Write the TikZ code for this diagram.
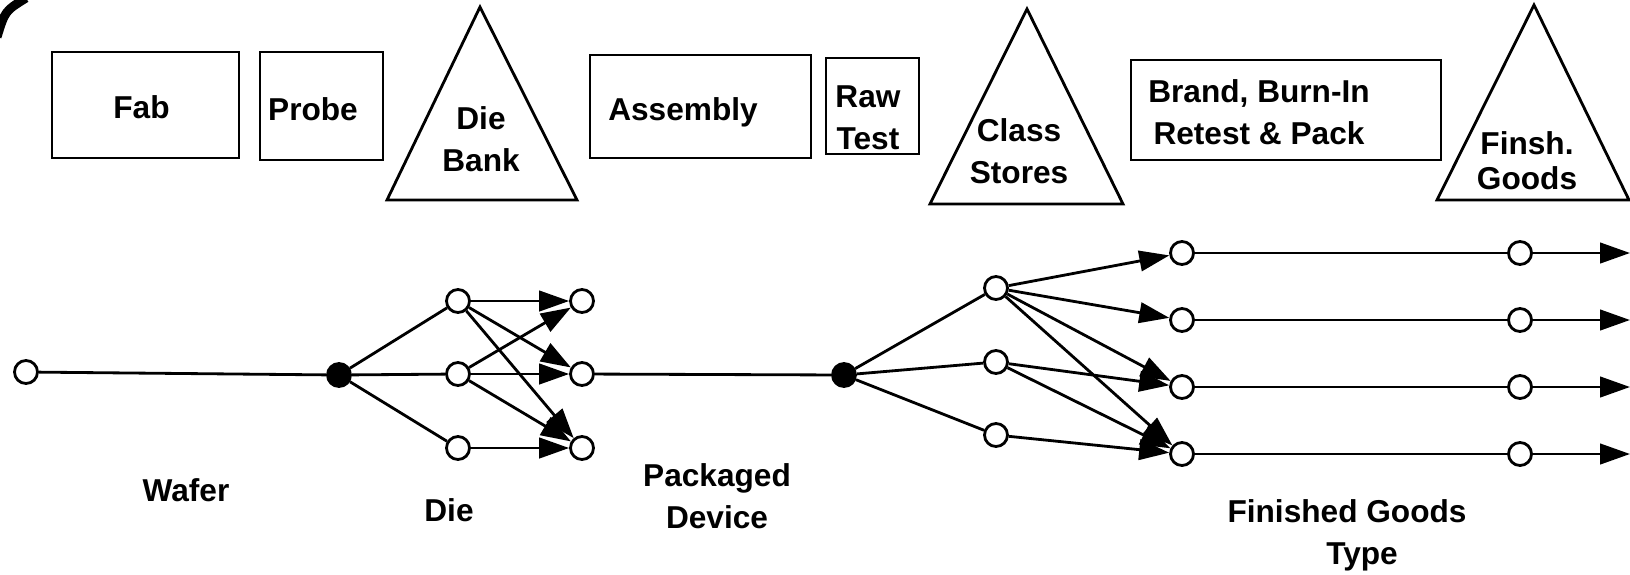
\documentclass[tikz,border=0pt]{standalone}
\usepackage{fontspec}
\setmainfont{Liberation Sans}
\usepackage{tikz}
\usetikzlibrary{arrows.meta}
\tikzset{
  caja/.style={draw=black, line width=1.6pt},
  rotulo/.style={font=\fontsize{18}{24}\selectfont\bfseries, align=center, inner sep=0pt},
  punto/.style={circle, draw=black, line width=1.6pt, fill=white, minimum size=0.46cm, inner sep=0pt},
  nudo/.style={punto, fill=black},
  linea/.style={line width=1.6pt},
  flecha/.style={line width=1.6pt, -{Triangle[length=0.6cm, width=0.41cm]}}
}

\begin{document}
\begin{tikzpicture}

        \useasboundingbox (0,0) rectangle (32.6,-11.48);

        % Trazo grueso en la esquina
        \draw[line width=0.18cm] (-0.06,-0.74) .. controls (0.1,-0.22) .. (0.52,0.04);

        % Etapas del proceso (fila superior)
        \draw[caja] (1.04,-1.04) rectangle (4.78,-3.16);
        \node[rotulo] (tfab) at (2.83,-2.14) {Fab};

        \draw[caja] (5.2,-1.04) rectangle (7.66,-3.2);
        \node[rotulo] (tprobe) at (6.26,-2.18) {Probe};

        \draw[caja] (7.74,-4.0) -- (9.6,-0.14) -- (11.54,-4.0) -- cycle;
        \node[rotulo] (tdiebank) at (9.62,-2.78) {Die\\Bank};

        \draw[caja] (11.8,-1.1) rectangle (16.22,-3.16);
        \node[rotulo] (tassembly) at (13.66,-2.24) {Assembly};

        \draw[caja] (16.52,-1.16) rectangle (18.38,-3.08);
        \node[rotulo] (trawtest) at (17.36,-2.35) {Raw\\Test};

        \draw[caja] (18.6,-4.08) -- (20.54,-0.18) -- (22.46,-4.08) -- cycle;
        \node[rotulo] (tclass) at (20.38,-3.02) {Class\\Stores};

        \draw[caja] (22.62,-1.2) rectangle (28.82,-3.2);
        \node[rotulo] (tbrand) at (25.18,-2.24) {Brand, Burn-In\\Retest \& Pack};

        \draw[caja] (28.74,-4.0) -- (30.68,-0.1) -- (32.58,-4.0) -- cycle;
        \node[rotulo] (tfinsh) at (30.54,-3.22) {Finsh.\\[-0.14cm]Goods};

        % --- RED DE FLUJO ---

        % Oblea y dados
        \node[punto] (w0) at (0.52,-7.44) {};
        \node[nudo]  (n1) at (6.78,-7.5) {};
        \foreach \i/\y in {1/-6.02, 2/-7.48, 3/-8.96} {
            \node[punto] (d\i) at (9.16,\y) {};
            \node[punto] (p\i) at (11.64,\y) {};
            \draw[linea] (n1) -- (d\i);
        }
        \draw[linea] (w0) -- (n1);
        \draw[flecha] (d1) -- (p1);
        \draw[flecha] (d1) -- (p2);
        \draw[flecha] (d1) -- (p3);
        \draw[flecha] (d2) -- (p1);
        \draw[flecha] (d2) -- (p2);
        \draw[flecha] (d2) -- (p3);
        \draw[flecha] (d3) -- (p3);

        % Dispositivo encapsulado y clases
        \node[nudo] (n2) at (16.88,-7.5) {};
        \draw[linea] (p2) -- (n2);
        \foreach \i/\y in {1/-5.76, 2/-7.24, 3/-8.7} {
            \node[punto] (c\i) at (19.92,\y) {};
            \draw[linea] (n2) -- (c\i);
        }

        % Producto terminado por tipo
        \foreach \i/\y in {1/-5.06, 2/-6.4, 3/-7.74, 4/-9.08} {
            \node[punto] (g\i) at (23.64,\y) {};
            \node[punto] (h\i) at (30.4,\y) {};
            \coordinate (e\i) at (32.6,\y);
            \draw[linea] (g\i) -- (h\i);
            \draw[flecha] (h\i) -- (e\i);
        }
        \draw[flecha] (c1) -- (g1);
        \draw[flecha] (c1) -- (g2);
        \draw[flecha] (c1) -- (g3);
        \draw[flecha] (c1) -- (g4);
        \draw[flecha] (c2) -- (g3);
        \draw[flecha] (c2) -- (g4);
        \draw[flecha] (c3) -- (g4);

        % Etiquetas inferiores
        \node[rotulo] (twafer) at (3.72,-9.8) {Wafer};
        \node[rotulo] (tdie) at (8.98,-10.2) {Die};
        \node[rotulo] (tpack) at (14.34,-9.92) {Packaged\\Device};
        \node[rotulo] (ttype) at (26.94,-10.7) {Finished Goods\\\hspace*{0.6cm}Type};

\end{tikzpicture}
\end{document}
